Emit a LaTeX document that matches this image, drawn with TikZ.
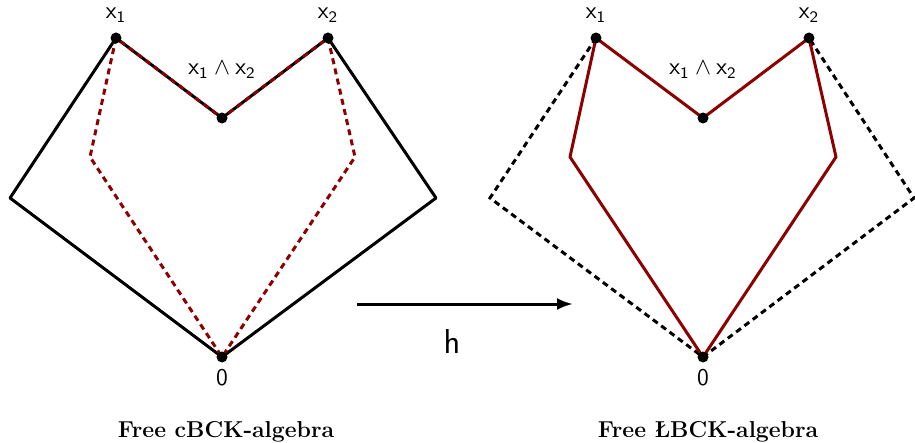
\documentclass[tikz,border=0pt]{standalone}
\usepackage{amsmath}
\usepackage{amssymb}
\usepackage{tikz}
\usetikzlibrary{arrows.meta}
\definecolor{darkred}{RGB}{140,0,0}
\tikzset{
  edge/.style={line width=1.5pt},
  redge/.style={line width=1.5pt,darkred},
  dashedge/.style={line width=1.5pt,dash pattern=on 3pt off 2.2pt},
  dot/.style={circle,fill=black,inner sep=0pt,minimum size=5.5pt},
  lbl/.style={font=\fontsize{11.5}{14}\selectfont\sffamily},
  captext/.style={font=\fontsize{11.5}{14}\selectfont\bfseries}
}
\begin{document}
\begin{tikzpicture}[x=0.5pt,y=-0.5pt]
\useasboundingbox (0,0) rectangle (915,443);
% left: free cBCK-algebra
\coordinate (ax1) at (116,38);
\coordinate (ax2) at (328,38);
\coordinate (am) at (222,118);
\coordinate (a0) at (222,357);
\coordinate (al) at (10,198);
\coordinate (ar) at (436,198);
\coordinate (ail) at (90,157);
\coordinate (air) at (355,157);
\draw[edge,line join=round] (ax1)--(al)--(a0)--(ar)--(ax2)--(am)--cycle;
\draw[dashedge,darkred] (ax1)--(ail)--(a0)--(air)--(ax2)--(am)--cycle;
\node[dot] at (ax1) {};
\node[dot] at (ax2) {};
\node[dot] at (am) {};
\node[dot] at (a0) {};
\node[lbl] (lax1) at (116,15) {$\mathsf{x}_{\mathsf{1}}$};
\node[lbl] (lax2) at (328,15) {$\mathsf{x}_{\mathsf{2}}$};
\node[lbl] (lam) at (222,70) {$\mathsf{x}_{\mathsf{1}}\wedge\mathsf{x}_{\mathsf{2}}$};
\node[lbl] (la0) at (222,378) {$\mathsf{0}$};
\node[captext] (capa) at (226,432) {Free cBCK-algebra};
% right: free LBCK-algebra
\coordinate (bx1) at (596,38);
\coordinate (bx2) at (809,38);
\coordinate (bm) at (703,118);
\coordinate (b0) at (703,357);
\coordinate (bl) at (490,198);
\coordinate (br) at (914,198);
\coordinate (bil) at (570,157);
\coordinate (bir) at (836,157);
\draw[dashedge] (bx1)--(bl)--(b0)--(br)--(bx2);
\draw[redge,line join=round] (bx1)--(bil)--(b0)--(bir)--(bx2)--(bm)--cycle;
\node[dot] at (bx1) {};
\node[dot] at (bx2) {};
\node[dot] at (bm) {};
\node[dot] at (b0) {};
\node[lbl] (lbx1) at (596,15) {$\mathsf{x}_{\mathsf{1}}$};
\node[lbl] (lbx2) at (809,15) {$\mathsf{x}_{\mathsf{2}}$};
\node[lbl] (lbm) at (703,70) {$\mathsf{x}_{\mathsf{1}}\wedge\mathsf{x}_{\mathsf{2}}$};
\node[lbl] (lb0) at (703,378) {$\mathsf{0}$};
\node[captext] (capb) at (708,432) {Free \L BCK-algebra};
% the map h
\coordinate (hs) at (357,304);
\coordinate (he) at (573,304);
\draw[edge,-{Latex[length=8pt,width=6pt]}] (hs)--(he);
\node[font=\fontsize{16.5}{20}\selectfont\sffamily] (h) at (452,341) {$\mathsf{h}$};
\end{tikzpicture}
\end{document}
